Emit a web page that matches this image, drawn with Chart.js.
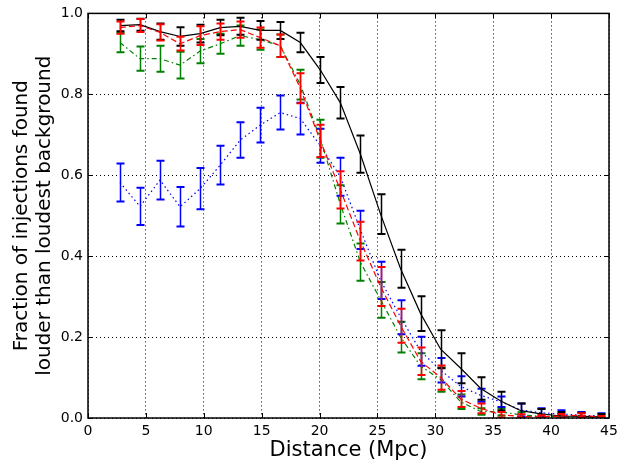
<!DOCTYPE html>
<html>
<head>
<meta charset="utf-8">
<script src="https://cdn.jsdelivr.net/npm/chart.js@4.4.1/dist/chart.umd.min.js"></script>
<style>
  html, body { margin: 0; padding: 0; background: #fff; }
</style>
</head>
<body>
<canvas id="chart" width="629" height="461"></canvas>
<script>
// bin centres (Mpc)
var distances = [2.76, 4.49, 6.22, 7.95, 9.69, 11.42, 13.15, 14.88, 16.61, 18.34,
                 20.07, 21.80, 23.53, 25.27, 27.00, 28.73, 30.46, 32.19, 33.92, 35.65,
                 37.38, 39.12, 40.85, 42.58, 44.31];

var blackFrac = [0.970, 0.972, 0.955, 0.943, 0.950, 0.965, 0.968, 0.958, 0.958, 0.928,
                 0.860, 0.779, 0.652, 0.504, 0.369, 0.258, 0.170, 0.123, 0.073, 0.042,
                 0.018, 0.010, 0.005, 0.004, 0.003];
var blackErr  = [0.014, 0.015, 0.020, 0.023, 0.022, 0.019, 0.021, 0.023, 0.021, 0.024,
                 0.032, 0.039, 0.046, 0.049, 0.047, 0.043, 0.047, 0.037, 0.028, 0.023,
                 0.018, 0.012, 0.010, 0.009, 0.007];

var redFrac = [0.965, 0.970, 0.953, 0.925, 0.945, 0.955, 0.960, 0.940, 0.920, 0.815,
               0.685, 0.564, 0.437, 0.325, 0.228, 0.140, 0.100, 0.047, 0.024, 0.008,
               0.004, 0.003, 0.005, 0.007, 0.002];
var redErr  = [0.015, 0.016, 0.020, 0.017, 0.023, 0.020, 0.020, 0.025, 0.028, 0.037,
               0.040, 0.046, 0.048, 0.048, 0.042, 0.034, 0.030, 0.020, 0.012, 0.007,
               0.005, 0.004, 0.005, 0.005, 0.003];

var greenFrac = [0.928, 0.888, 0.888, 0.872, 0.907, 0.925, 0.945, 0.935, 0.920, 0.824,
                 0.690, 0.528, 0.385, 0.292, 0.200, 0.128, 0.095, 0.040, 0.016, 0.015,
                 0.008, 0.004, 0.003, 0.002, 0.001];
var greenErr  = [0.024, 0.030, 0.032, 0.033, 0.030, 0.025, 0.025, 0.025, 0.028, 0.037,
                 0.047, 0.047, 0.046, 0.044, 0.038, 0.032, 0.030, 0.018, 0.008, 0.009,
                 0.006, 0.004, 0.003, 0.003, 0.002];

var blueFrac = [0.582, 0.523, 0.588, 0.522, 0.567, 0.625, 0.687, 0.724, 0.755, 0.740,
                0.673, 0.596, 0.465, 0.340, 0.249, 0.165, 0.118, 0.078, 0.056, 0.040,
                0.020, 0.013, 0.010, 0.007, 0.005];
var blueErr  = [0.047, 0.046, 0.048, 0.049, 0.051, 0.048, 0.044, 0.043, 0.042, 0.039,
                0.042, 0.047, 0.047, 0.046, 0.042, 0.036, 0.030, 0.025, 0.016, 0.013,
                0.016, 0.011, 0.009, 0.008, 0.007];

var xTicks = [0, 5, 10, 15, 20, 25, 30, 35, 40, 45];
var yTicks = [0.0, 0.2, 0.4, 0.6, 0.8, 1.0];

function toPoints(frac) {
    return distances.map(function(d, i) { return {x: d, y: frac[i]}; });
}

function series(frac, err, color, dash) {
    return {
        data: toPoints(frac),
        errors: err,
        borderColor: color,
        borderWidth: 1.2,
        borderDash: dash,
        pointRadius: 0,
        fill: false,
        tension: 0
    };
}

/* vertical error bars with caps, drawn right after each dataset's line */
var errorBars = {
    id: "errorBars",
    afterDatasetDraw: function(chart, args) {
        var ds = chart.data.datasets[args.index];
        var xS = chart.scales.x, yS = chart.scales.y;
        var area = chart.chartArea;
        var ctx = chart.ctx;
        ctx.save();
        ctx.beginPath();
        ctx.rect(area.left, area.top - 1, area.right - area.left, area.bottom - area.top + 1);
        ctx.clip();
        ctx.strokeStyle = ds.borderColor;
        ctx.setLineDash([]);
        ds.data.forEach(function(p, i) {
            var px = Math.round(xS.getPixelForValue(p.x)) + 0.5;
            var top = yS.getPixelForValue(p.y + ds.errors[i]);
            var bot = yS.getPixelForValue(p.y - ds.errors[i]);
            ctx.lineWidth = 1.5;
            ctx.beginPath();
            ctx.moveTo(px, top);
            ctx.lineTo(px, bot);
            ctx.stroke();
            ctx.lineWidth = 2;
            ctx.beginPath();
            ctx.moveTo(px - 4, top);
            ctx.lineTo(px + 4, top);
            ctx.moveTo(px - 4, bot);
            ctx.lineTo(px + 4, bot);
            ctx.stroke();
        });
        ctx.restore();
    }
};

/* solid frame plus inward tick marks on all four sides */
var frame = {
    id: "frame",
    afterDraw: function(chart) {
        var a = chart.chartArea, ctx = chart.ctx;
        var xS = chart.scales.x, yS = chart.scales.y;
        ctx.save();
        ctx.strokeStyle = "#000";
        ctx.lineWidth = 1;
        ctx.setLineDash([]);
        ctx.beginPath();
        xTicks.forEach(function(v) {
            var px = Math.round(xS.getPixelForValue(v)) + 0.5;
            ctx.moveTo(px, a.bottom); ctx.lineTo(px, a.bottom - 5);
            ctx.moveTo(px, a.top); ctx.lineTo(px, a.top + 5);
        });
        yTicks.forEach(function(v) {
            var py = Math.round(yS.getPixelForValue(v)) + 0.5;
            ctx.moveTo(a.left, py); ctx.lineTo(a.left + 5, py);
            ctx.moveTo(a.right, py); ctx.lineTo(a.right - 5, py);
        });
        ctx.stroke();
        ctx.lineWidth = 1.5;
        ctx.strokeRect(a.left, a.top, a.right - a.left, a.bottom - a.top);
        ctx.restore();
    }
};

Chart.defaults.font.family = "'DejaVu Sans', sans-serif";
Chart.defaults.color = "#000";

// first dataset ends up drawn on top
new Chart(document.getElementById("chart"), {
    type: "line",
    data: {
        datasets: [
            series(redFrac, redErr, "#ff0000", [6, 3]),
            series(blackFrac, blackErr, "#000000", []),
            series(blueFrac, blueErr, "#0000ff", [1.5, 3]),
            series(greenFrac, greenErr, "#008000", [5, 3, 1.5, 3])
        ]
    },
    options: {
        responsive: false,
        animation: false,
        devicePixelRatio: 1,
        layout: { padding: { left: 0, right: 20, top: 13, bottom: 0 } },
        plugins: { legend: { display: false }, tooltip: { enabled: false } },
        scales: {
            x: {
                type: "linear",
                min: 0, max: 45,
                afterFit: function(s) { s.height = 43; },
                afterBuildTicks: function(s) { s.ticks = xTicks.map(function(v) { return {value: v}; }); },
                ticks: { font: { size: 14 }, padding: 5, maxRotation: 0 },
                grid: { color: "#000", lineWidth: 1, drawTicks: false },
                border: { display: false, dash: [1, 3] },
                title: { display: true, text: "Distance (Mpc)", font: { size: 21, lineHeight: 1 }, padding: 0 }
            },
            y: {
                type: "linear",
                min: 0, max: 1,
                afterFit: function(s) { s.width = 88; },
                afterBuildTicks: function(s) { s.ticks = yTicks.map(function(v) { return {value: v}; }); },
                ticks: { font: { size: 14 }, padding: 5, callback: function(v) { return v.toFixed(1); } },
                grid: { color: "#000", lineWidth: 1, drawTicks: false },
                border: { display: false, dash: [1, 3] },
                title: {
                    display: true,
                    text: ["Fraction of injections found", "louder than loudest background"],
                    font: { size: 20, lineHeight: 1.15 },
                    padding: { top: 10, bottom: 0 }
                }
            }
        }
    },
    plugins: [errorBars, frame]
});
</script>
</body>
</html>
